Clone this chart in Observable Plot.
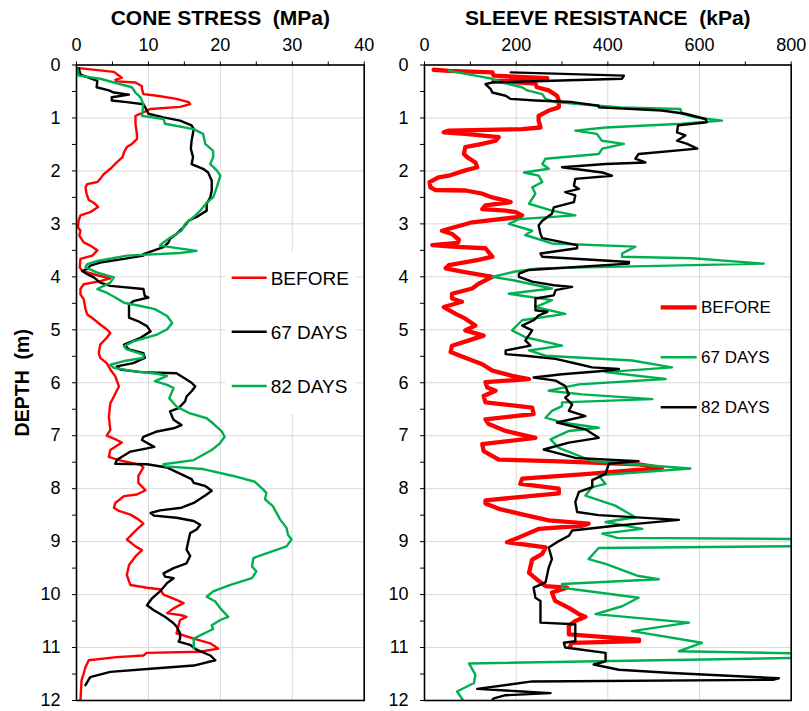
<!DOCTYPE html>
<html><head><meta charset="utf-8">
<script src="https://cdn.jsdelivr.net/npm/d3@7"></script>
<script src="https://cdn.jsdelivr.net/npm/@observablehq/plot@0.6"></script>
<style>
body{margin:0;background:#fff;font-family:"Liberation Sans",Arial,sans-serif}
#wrap{position:relative;width:809px;height:711px;overflow:hidden}
#wrap svg{position:absolute;top:0;overflow:visible;background:transparent}
</style></head><body><div id="wrap"></div>
<script>
// ---- data: [depth (m), value] ----
const coneBefore = [[0.06,0.3],[0.13,5.2],[0.24,6.3],[0.28,5.4],[0.31,5.6],[0.33,8.2],[0.4,9.1],[0.45,9.1],[0.55,9.3],[0.58,11.2],[0.64,13.9],[0.7,15.6],[0.74,15.8],[0.79,14.4],[0.83,10.3],[0.92,8.9],[0.96,8.2],[1.11,8.2],[1.3,8.4],[1.4,8.4],[1.49,7.7],[1.55,7.0],[1.65,6.6],[1.74,6.4],[1.84,5.6],[1.96,4.7],[2.06,3.8],[2.15,3.3],[2.21,2.9],[2.25,1.5],[2.31,1.25],[2.43,1.4],[2.55,1.7],[2.6,2.4],[2.68,3.0],[2.78,1.9],[2.84,0.55],[2.94,0.3],[3.06,0.2],[3.13,0.55],[3.22,0.4],[3.35,1.0],[3.41,1.9],[3.5,2.9],[3.6,2.2],[3.66,0.55],[3.82,0.45],[3.89,0.8],[3.97,2.9],[4.03,4.7],[4.08,3.3],[4.14,1.0],[4.23,0.55],[4.33,0.55],[4.42,1.0],[4.61,1.25],[4.71,1.5],[4.8,2.4],[4.9,3.3],[4.99,4.2],[5.06,4.7],[5.15,4.2],[5.28,3.3],[5.44,3.1],[5.53,3.3],[5.63,4.2],[5.75,4.7],[5.88,5.4],[6.07,5.9],[6.26,5.2],[6.39,4.7],[6.64,4.5],[6.89,4.7],[7.0,4.2],[7.08,5.6],[7.13,6.3],[7.27,4.7],[7.4,4.5],[7.46,5.9],[7.55,8.9],[7.6,9.3],[7.76,8.6],[7.89,8.6],[8.03,9.6],[8.11,8.4],[8.14,6.6],[8.27,5.4],[8.36,5.2],[8.42,5.9],[8.49,7.5],[8.58,8.6],[8.66,9.3],[8.77,8.4],[8.96,7.0],[9.09,8.2],[9.16,9.1],[9.28,8.2],[9.44,7.3],[9.63,7.0],[9.82,7.5],[9.87,9.8],[9.9,11.6],[10.0,12.1],[10.1,13.9],[10.16,14.9],[10.26,13.5],[10.35,12.6],[10.39,14.6],[10.42,15.3],[10.48,14.4],[10.73,13.9],[10.83,16.3],[10.92,18.6],[11.02,19.7],[11.08,17.2],[11.1,9.8],[11.15,9.3],[11.18,5.6],[11.24,1.7],[11.37,1.25],[11.49,1.0],[11.62,0.7],[12.0,0.55]];

const cone67 = [[0.06,0.3],[0.18,0.55],[0.3,2.9],[0.42,2.8],[0.48,4.5],[0.52,5.2],[0.56,7.3],[0.61,4.9],[0.67,4.9],[0.7,7.0],[0.74,9.3],[0.86,9.8],[0.92,10.0],[0.99,12.1],[1.05,14.4],[1.14,16.0],[1.21,16.3],[1.43,16.0],[1.58,15.9],[1.74,16.2],[1.87,16.0],[1.96,17.6],[2.03,18.3],[2.18,18.8],[2.37,18.8],[2.5,18.6],[2.62,18.1],[2.75,18.1],[2.87,16.7],[2.94,15.6],[3.06,14.9],[3.19,13.9],[3.28,13.0],[3.35,12.8],[3.44,12.1],[3.57,9.3],[3.6,9.3],[3.66,6.6],[3.73,3.3],[3.79,1.9],[3.85,1.5],[3.89,0.8],[3.95,1.5],[4.01,2.4],[4.11,3.3],[4.17,4.7],[4.23,9.3],[4.36,9.5],[4.39,10.0],[4.46,7.9],[4.52,7.3],[4.77,7.3],[4.84,8.6],[4.93,9.8],[5.03,10.3],[5.15,8.9],[5.28,6.6],[5.37,7.3],[5.44,9.3],[5.53,9.5],[5.63,7.9],[5.69,5.6],[5.75,6.1],[5.8,8.9],[5.82,13.9],[5.94,15.3],[6.0,16.0],[6.07,16.5],[6.16,16.0],[6.26,15.3],[6.35,15.1],[6.48,14.2],[6.54,13.0],[6.64,13.3],[6.7,13.5],[6.8,14.6],[6.86,13.5],[6.92,11.2],[7.02,9.3],[7.08,9.1],[7.21,10.8],[7.24,9.8],[7.3,7.5],[7.46,5.6],[7.53,5.4],[7.54,9.8],[7.6,12.6],[7.66,13.5],[7.73,14.6],[7.82,16.0],[7.89,16.3],[7.95,17.9],[8.04,18.8],[8.11,18.1],[8.27,16.3],[8.36,14.6],[8.41,11.6],[8.46,10.3],[8.51,10.8],[8.55,13.9],[8.61,16.3],[8.68,17.2],[8.77,16.7],[8.84,15.8],[8.96,15.6],[9.15,15.3],[9.27,15.8],[9.41,15.3],[9.5,13.5],[9.6,12.1],[9.66,12.3],[9.69,13.5],[9.78,12.6],[9.94,11.6],[10.07,10.5],[10.2,9.8],[10.29,10.7],[10.42,12.3],[10.54,13.5],[10.6,13.9],[10.73,14.4],[10.83,14.4],[10.89,14.2],[10.95,15.8],[11.04,16.7],[11.15,18.6],[11.24,19.3],[11.34,16.3],[11.4,10.3],[11.46,4.7],[11.56,1.9],[11.71,1.25]];

const cone82 = [[0.06,0.1],[0.2,0.3],[0.26,3.3],[0.33,5.2],[0.42,7.7],[0.52,8.2],[0.61,8.9],[0.74,9.3],[0.96,9.1],[1.02,12.1],[1.11,12.3],[1.21,16.3],[1.3,17.6],[1.49,17.9],[1.62,19.0],[1.74,19.0],[1.87,18.6],[1.99,19.5],[2.09,20.0],[2.31,19.5],[2.5,19.0],[2.6,18.1],[2.75,17.2],[2.87,16.3],[3.0,15.1],[3.13,14.6],[3.22,13.5],[3.28,12.8],[3.35,12.1],[3.41,11.6],[3.51,16.7],[3.55,14.4],[3.6,7.0],[3.7,2.9],[3.76,1.5],[3.82,1.25],[3.92,2.9],[4.01,5.2],[4.11,4.7],[4.23,2.9],[4.3,4.2],[4.39,5.4],[4.49,6.6],[4.55,8.9],[4.61,10.9],[4.74,12.6],[4.87,13.3],[4.99,12.6],[5.09,11.2],[5.22,7.9],[5.31,6.6],[5.37,7.0],[5.47,9.3],[5.53,9.3],[5.59,6.6],[5.66,4.7],[5.72,5.2],[5.78,7.9],[5.83,11.2],[5.87,12.6],[5.97,10.9],[6.04,12.6],[6.1,13.5],[6.29,12.9],[6.45,13.9],[6.58,15.8],[6.67,18.1],[6.77,19.0],[6.92,20.2],[7.02,20.6],[7.15,19.9],[7.27,18.8],[7.46,16.3],[7.54,12.1],[7.58,12.3],[7.63,17.6],[7.76,21.8],[7.87,24.8],[8.01,25.9],[8.08,26.4],[8.2,26.2],[8.33,27.3],[8.58,28.3],[8.74,29.2],[8.87,29.4],[8.96,29.9],[9.09,29.2],[9.22,26.4],[9.31,24.6],[9.47,24.4],[9.56,25.0],[9.69,24.4],[9.82,21.3],[9.94,19.0],[10.04,18.1],[10.13,19.3],[10.26,20.0],[10.42,21.1],[10.48,20.0],[10.58,18.8],[10.65,19.0],[10.77,17.2],[10.83,16.3],[11.02,16.3]];

const sleeveBefore = [[0.09,20],[0.11,53],[0.14,148],[0.2,151],[0.25,268],[0.28,265],[0.3,151],[0.35,242],[0.42,245],[0.48,271],[0.58,289],[0.67,293],[0.8,293],[0.86,271],[0.96,249],[1.05,249],[1.18,253],[1.21,213],[1.24,53],[1.27,42],[1.3,89],[1.36,162],[1.43,155],[1.49,126],[1.55,89],[1.68,86],[1.74,93],[1.84,111],[1.93,115],[1.99,89],[2.09,53],[2.12,31],[2.21,11],[2.31,13],[2.36,24],[2.37,89],[2.43,126],[2.5,148],[2.56,177],[2.59,188],[2.65,133],[2.72,126],[2.75,177],[2.78,199],[2.84,213],[2.87,206],[2.97,104],[3.13,38],[3.19,60],[3.3,75],[3.36,73],[3.4,17],[3.43,60],[3.46,133],[3.62,148],[3.68,118],[3.78,53],[3.84,46],[3.9,82],[4.0,148],[4.13,118],[4.22,104],[4.32,60],[4.41,60],[4.47,82],[4.57,42],[4.7,68],[4.79,89],[4.92,111],[5.01,89],[5.11,129],[5.2,97],[5.3,60],[5.42,57],[5.52,86],[5.65,126],[5.77,148],[5.87,191],[5.93,228],[5.99,133],[6.09,137],[6.15,155],[6.25,129],[6.37,133],[6.47,235],[6.59,238],[6.69,133],[6.78,140],[6.91,177],[7.04,242],[7.16,126],[7.29,129],[7.45,162],[7.48,278],[7.54,468],[7.61,518],[7.72,358],[7.81,213],[7.91,209],[8.0,293],[8.09,293],[8.22,133],[8.28,133],[8.38,162],[8.47,206],[8.6,271],[8.66,358],[8.7,344],[8.76,249],[8.92,206],[9.01,180],[9.11,264],[9.23,257],[9.34,235],[9.59,228],[9.74,249],[9.84,264],[9.87,311],[9.96,278],[10.12,285],[10.25,315],[10.37,337],[10.42,351],[10.5,329],[10.59,315],[10.75,315],[10.85,468],[10.88,468],[10.91,322],[10.97,318]];

const sleeve67 = [[0.11,53],[0.2,111],[0.26,148],[0.33,169],[0.42,213],[0.48,224],[0.55,257],[0.64,264],[0.7,286],[0.77,380],[0.8,428],[0.83,558],[0.92,562],[0.99,591],[1.05,649],[1.11,562],[1.18,395],[1.24,329],[1.3,376],[1.43,387],[1.49,435],[1.58,388],[1.68,380],[1.77,264],[1.87,257],[1.96,271],[2.03,217],[2.09,249],[2.21,257],[2.31,235],[2.43,242],[2.62,228],[2.75,278],[2.84,329],[2.91,206],[3.0,184],[3.13,235],[3.21,220],[3.37,278],[3.43,460],[3.56,431],[3.62,431],[3.65,584],[3.75,740],[3.84,249],[3.9,198],[4.0,148],[4.06,191],[4.22,278],[4.32,184],[4.44,278],[4.57,242],[4.7,307],[4.82,213],[5.01,191],[5.14,220],[5.3,300],[5.39,228],[5.49,264],[5.58,453],[5.71,540],[5.8,395],[5.93,526],[6.03,337],[6.15,271],[6.22,344],[6.31,497],[6.37,300],[6.44,300],[6.53,278],[6.66,264],[6.75,300],[6.85,380],[6.91,315],[7.07,275],[7.23,293],[7.48,366],[7.62,580],[7.75,380],[7.91,395],[7.97,366],[8.13,351],[8.32,416],[8.54,460],[8.63,395],[8.76,475],[8.85,388],[8.93,420],[8.96,1000],[9.07,1000],[9.12,380],[9.33,358],[9.42,395],[9.65,467],[9.71,511],[9.8,300],[9.87,300],[10.06,467],[10.22,431],[10.37,373],[10.53,577],[10.69,453],[10.91,605],[11.07,555],[11.14,1000],[11.17,1000],[11.3,97],[11.51,111],[11.67,108],[11.83,71],[12.02,86]];

const sleeve82 = [[0.14,188],[0.2,435],[0.26,431],[0.33,148],[0.36,133],[0.45,144],[0.52,148],[0.58,177],[0.64,188],[0.67,242],[0.7,322],[0.77,380],[0.8,380],[0.86,518],[0.92,569],[1.02,613],[1.08,616],[1.14,553],[1.27,551],[1.33,569],[1.43,551],[1.49,573],[1.58,595],[1.68,467],[1.77,460],[1.84,482],[1.87,395],[1.93,300],[2.03,388],[2.09,409],[2.15,329],[2.28,326],[2.34,337],[2.4,307],[2.46,329],[2.59,326],[2.69,282],[2.81,278],[2.94,257],[3.03,249],[3.19,253],[3.27,257],[3.4,333],[3.46,333],[3.56,253],[3.62,257],[3.72,446],[3.75,446],[3.87,228],[3.94,206],[4.0,206],[4.09,235],[4.16,282],[4.19,322],[4.25,286],[4.35,282],[4.41,242],[4.63,242],[4.66,268],[4.73,249],[4.82,238],[4.92,213],[5.01,235],[5.2,220],[5.3,231],[5.39,177],[5.46,177],[5.49,220],[5.55,286],[5.65,337],[5.71,366],[5.74,424],[5.77,402],[5.84,300],[5.9,238],[5.96,286],[6.06,307],[6.22,315],[6.28,307],[6.41,322],[6.53,315],[6.63,351],[6.75,289],[6.88,351],[7.04,380],[7.13,315],[7.26,260],[7.32,286],[7.42,329],[7.48,467],[7.53,402],[7.72,395],[7.84,366],[7.97,366],[8.06,337],[8.25,329],[8.44,333],[8.5,380],[8.59,555],[8.66,467],[8.7,416],[8.79,322],[8.89,315],[9.01,289],[9.11,271],[9.33,278],[9.49,271],[9.77,264],[9.87,238],[10.06,242],[10.12,253],[10.53,253],[10.56,329],[10.88,329],[10.91,304],[11.0,307],[11.1,395],[11.26,395],[11.32,369],[11.42,424],[11.48,540],[11.58,773],[11.61,760],[11.64,235],[11.78,115],[11.83,213],[11.86,275],[11.9,177],[11.96,151],[12.0,147]];

const depthTicks = [0,0.5,1,1.5,2,2.5,3,3.5,4,4.5,5,5.5,6,6.5,7,7.5,8,8.5,9,9.5,10,10.5,11,11.5,12];
const depthGrid = [0,1,2,3,4,5,6,7,8,9,10,11,12];
const coneTicks = [0,5,10,15,20,25,30,35,40];
const coneGrid = [0,10,20,30,40];
const sleeveTicks = [0,100,200,300,400,500,600,700,800];
const sleeveGrid = [0,200,400,600,800];
const seriesLabels = ["BEFORE","67 DAYS","82 DAYS"];
const leftColors = ["#ff0000","#000000","#00b050"];
const rightColors = ["#ff0000","#00b050","#000000"];

const RED="#ff0000", BLACK="#000000", GREEN="#00b050", GRID="#d9d9d9";
const FONT = "Liberation Sans, Arial, sans-serif";
const H = 711, TOP = 64.5, BOTTOM = 11;

function panel({width, ml, mr, domain, ticks, grid, major, title, lines, ylabel}) {
  const marks = [
    Plot.gridX(grid, {stroke: GRID, strokeOpacity: 1, strokeWidth: 1}),
    Plot.gridY(depthGrid, {stroke: GRID, strokeOpacity: 1, strokeWidth: 1}),
    ...lines.map(l => Plot.line(l.data, {x: d => d[1], y: d => d[0], stroke: l.color, strokeWidth: l.w, strokeLinejoin: "round", clip: true})),
    Plot.frame({stroke: "#000", strokeWidth: 1.6}),
    Plot.axisX(ticks, {anchor: "top", tickSize: 4, tickPadding: 10, tickFormat: d => d % major === 0 ? String(d) : "", label: null, fontSize: 18}),
    Plot.axisY(depthTicks, {anchor: "left", tickSize: 4, tickPadding: 12, tickFormat: d => Number.isInteger(d) ? String(d) : "", label: null, fontSize: 18}),
    Plot.text([title], {frameAnchor: "top", dy: -46.5, lineAnchor: "middle", textAnchor: "middle", fontWeight: "bold", fontSize: 21, fill: "#000"})
  ];
  if (ylabel) marks.push(Plot.text([ylabel], {frameAnchor: "left", dx: -53.5, rotate: -90, textAnchor: "middle", lineAnchor: "middle", fontWeight: "bold", fontSize: 19.5, fill: "#000"}));
  return Plot.plot({
    width, height: H, marginLeft: ml, marginRight: mr, marginTop: TOP, marginBottom: BOTTOM,
    style: {fontFamily: FONT, fontSize: "18px", color: "#000", background: "transparent", overflow: "visible"},
    x: {domain, axis: null},
    y: {domain: [0, 12], reverse: true, axis: null},
    marks
  });
}

const left = panel({
  width: 370, ml: 76, mr: 6.3, domain: [0, 40], ticks: coneTicks, grid: coneGrid, major: 10,
  title: "CONE STRESS\u00a0 (MPa)", ylabel: "DEPTH\u00a0 (m)",
  lines: [{data: coneBefore, color: RED, w: 2.4}, {data: cone67, color: BLACK, w: 2.4}, {data: cone82, color: GREEN, w: 2.4}]
});
const right = panel({
  width: 439, ml: 54, mr: 18.3, domain: [0, 800], ticks: sleeveTicks, grid: sleeveGrid, major: 200,
  title: "SLEEVE RESISTANCE\u00a0 (kPa)",
  lines: [{data: sleeveBefore, color: RED, w: 4.3}, {data: sleeve67, color: GREEN, w: 2.4}, {data: sleeve82, color: BLACK, w: 2.4}]
});
const wrap = document.getElementById("wrap");
left.style.left = "0px";
right.style.left = "370px";
wrap.appendChild(left);
wrap.appendChild(right);

// legends
const ov = d3.select(wrap).append("svg").attr("width", 809).attr("height", 711).style("left", "0px").style("font-family", FONT);
ov.append("rect").attr("x", 225).attr("y", 252).attr("width", 131).attr("height", 162).attr("fill", "#fff");
const lY = [277.7, 331.7, 386];
seriesLabels.forEach((s, i) => {
  ov.append("line").attr("x1", 231.7).attr("x2", 266.7).attr("y1", lY[i]).attr("y2", lY[i]).attr("stroke", leftColors[i]).attr("stroke-width", 2.4);
  ov.append("text").attr("x", 270.7).attr("y", lY[i] + 19 * 0.36).attr("font-size", 19).attr("fill", "#000").text(s);
});
const rY = [307.3, 357.3, 407.3];
const rW = [4.3, 2.4, 2.4];
seriesLabels.forEach((s, i) => {
  ov.append("line").attr("x1", 660.7).attr("x2", 696.7).attr("y1", rY[i]).attr("y2", rY[i]).attr("stroke", rightColors[i]).attr("stroke-width", rW[i]);
  ov.append("text").attr("x", 701).attr("y", rY[i] + 17 * 0.36).attr("font-size", 17).attr("fill", "#000").text(s);
});
</script></body></html>
